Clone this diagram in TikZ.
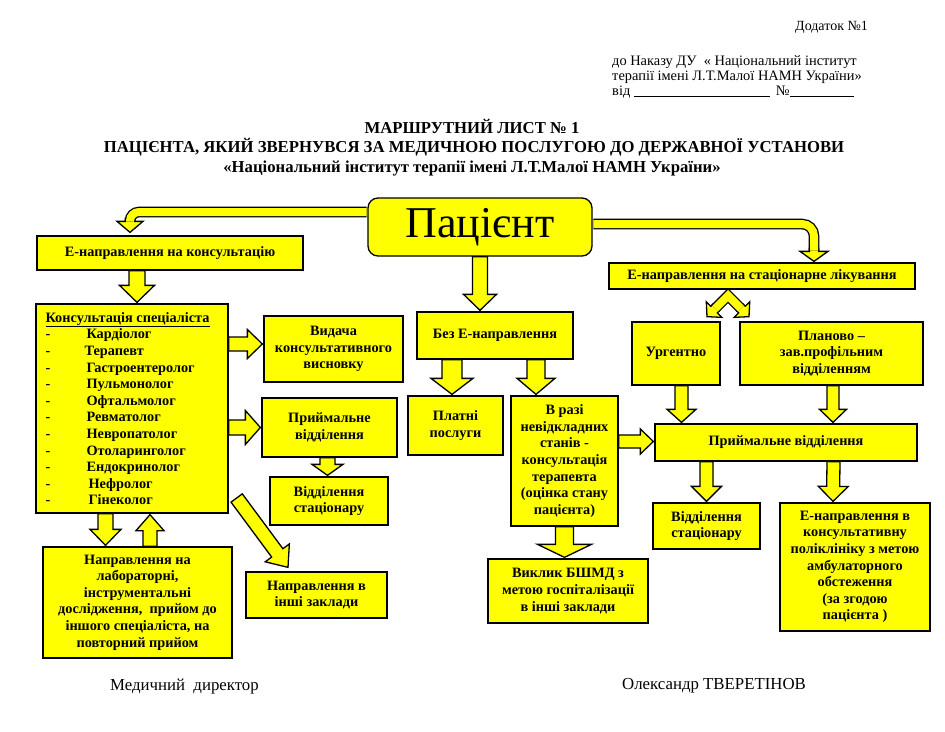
\documentclass[tikz,border=0pt]{standalone}
\usepackage{fontspec}
\setmainfont{Liberation Serif}
\usetikzlibrary{calc}
\definecolor{yel}{RGB}{255,255,0}
\newcommand\bx{\fontsize{14.3}{16.6}\selectfont\bfseries}
% block arrow: from, tip, shaft half width, head half width, head length
\newcommand\barrow[5]{%
  \filldraw[arr] let \p1=#1, \p2=#2, \n1={atan2(\y2-\y1,\x2-\x1)} in
    ($(\p1)+({\n1+90}:#3)$) --
    ($(\p2)+(\n1:-#5)+({\n1+90}:#3)$) --
    ($(\p2)+(\n1:-#5)+({\n1+90}:#4)$) --
    (\p2) --
    ($(\p2)+(\n1:-#5)+({\n1-90}:#4)$) --
    ($(\p2)+(\n1:-#5)+({\n1-90}:#3)$) --
    ($(\p1)+({\n1-90}:#3)$) -- cycle;}
\begin{document}
\begin{tikzpicture}[x=1pt,y=-1pt,
  box/.style={draw=black, fill=yel, line width=1.3pt, align=center, font=\bx, inner sep=1pt},
  arr/.style={draw=black, fill=yel, line width=1.3pt, line join=miter},
  dbl/.style={draw=black, line width=1.3pt, double=yel, double distance=8pt},
  hdr/.style={font=\fontsize{14.4}{15}\selectfont, inner sep=0pt},
  ttl/.style={font=\fontsize{16.7}{18}\selectfont\bfseries, inner sep=0pt, anchor=base},
  sig/.style={font=\fontsize{16.8}{18}\selectfont, inner sep=0pt, anchor=base west}]
\fill[white] (0,0) rectangle (945,731);
\useasboundingbox (0,0) rectangle (945,731);

% header
\node[hdr, anchor=base west, font=\fontsize{14}{15}\selectfont] (dod) at (795,30) {Додаток №1};
\node[hdr, anchor=base west] (h1) at (612,65) {до Наказу ДУ \ « Національний інститут};
\node[hdr, anchor=base west] (h2) at (612,80) {терапії імені Л.Т.Малої НАМН України»};
\node[hdr, anchor=base west] (h3) at (612,95) {від \rule[-1.5pt]{136pt}{0.5pt}\hspace{6pt}№\rule[-1.5pt]{64pt}{0.5pt}};

% title
\node[ttl] (t1) at (472,133) {МАРШРУТНИЙ ЛИСТ № 1};
\node[ttl] (t2) at (474,152.5) {ПАЦІЄНТА, ЯКИЙ ЗВЕРНУВСЯ ЗА МЕДИЧНОЮ ПОСЛУГОЮ ДО ДЕРЖАВНОЇ УСТАНОВИ};
\node[ttl] (t3) at (472,172) {«Національний інститут терапії імені Л.Т.Малої НАМН України»};

% boxes
\node[box, rounded corners=10pt, minimum width=224pt, minimum height=58pt, font=\fontsize{44}{44}\selectfont] (pat) at (480,227) {Пацієнт};
\node[box, minimum width=266pt, minimum height=34pt] (ekons) at (170,253) {Е-направлення на консультацію};
\node[box, minimum width=192pt, minimum height=209pt] (kons) at (132,408.5) {};
\node[anchor=north west, inner sep=0pt, font=\bx, align=left] (konsl) at ($(kons.north west)+(10,7)$) {%
\begin{tabular}{@{}p{41pt}@{}l@{}}
\multicolumn{2}{@{}l@{}}{\underline{Консультація спеціаліста}}\\
- & Кардіолог\\
- & \hspace*{-2pt}Терапевт\\
- & Гастроентеролог\\
- & Пульмонолог\\
- & Офтальмолог\\
- & Ревматолог\\
- & Невропатолог\\
- & Отоларинголог\\
- & Ендокринолог\\
- & \hspace*{2pt}Нефролог\\
- & \hspace*{2pt}Гінеколог
\end{tabular}};
\node[box, minimum width=139pt, minimum height=66pt] (vid) at (333.5,349) {Видача\\консультативного\\висновку};
\node[box, minimum width=135pt, minimum height=59pt] (pr1) at (329.5,427.5) {Приймальне\\відділення};
\node[box, minimum width=118pt, minimum height=48pt] (st1) at (329,501) {Відділення\\стаціонару};
\node[box, minimum width=141pt, minimum height=46pt] (inshi) at (316.5,595) {Направлення в\\інші заклади};
\node[box, minimum width=189pt, minimum height=111pt] (napr) at (137.5,602.5) {Направлення на\\лабораторні,\\інструментальні\\дослідження, \ прийом до\\іншого спеціаліста, на\\повторний прийом};
\node[box, minimum width=156pt, minimum height=47pt] (bez) at (495,335.5) {Без Е-направлення};
\node[box, minimum width=95pt, minimum height=59pt] (plat) at (455.5,425.5) {Платні\\послуги};
\node[box, minimum width=107pt, minimum height=130pt] (vrazi) at (564.5,461) {В разі\\невідкладних\\станів -\\консультація\\терапевта\\(оцінка стану\\пацієнта)};
\node[box, minimum width=160pt, minimum height=64pt] (vykl) at (568,591) {Виклик БШМД з\\метою госпіталізації\\в інші заклади};
\node[box, minimum width=306pt, minimum height=26pt] (estat) at (762,276) {Е-направлення на стаціонарне лікування};
\node[box, minimum width=88pt, minimum height=63pt] (urg) at (676,353.5) {Ургентно};
\node[box, minimum width=183pt, minimum height=63pt] (plan) at (831.5,353.5) {Планово –\\зав.профільним\\відділенням};
\node[box, minimum width=262pt, minimum height=37pt] (pr2) at (786,442.5) {Приймальне відділення};
\node[box, minimum width=107pt, minimum height=46pt] (st2) at (706.5,526) {Відділення\\стаціонару};
\node[box, minimum width=150pt, minimum height=128pt] (konsp) at (855,567) {Е-направлення в\\консультативну\\поліклініку з метою\\амбулаторного\\обстеження\\(за згодою\\пацієнта )};

% straight block arrows
\barrow{($(ekons.south)+(-33,0)$)}{($(kons.north)+(5,-1)$)}{8pt}{17.5pt}{17pt}
\barrow{($(kons.east)+(0,-64.5)$)}{($(vid.west)+(-1,-5)$)}{7pt}{14.5pt}{15pt}
\barrow{($(kons.east)+(0,19)$)}{($(pr1.west)+(-1,0)$)}{7.5pt}{17pt}{15pt}
\barrow{($(pr1.south)+(-2,0)$)}{($(st1.north)+(-1.5,-1)$)}{7.5pt}{15.5pt}{11pt}
\barrow{($(kons.east)+(8,89.5)$)}{($(inshi.north)+(-28.5,-4)$)}{7pt}{15pt}{18pt}
\barrow{($(kons.south)+(-26.5,0)$)}{($(napr.north)+(-32,-1)$)}{7.5pt}{15.5pt}{16pt}
\barrow{($(napr.north)+(12.5,0)$)}{($(kons.south)+(18,1)$)}{7pt}{14pt}{16pt}
\barrow{(pat.south)}{($(bez.north)+(-15,-1)$)}{7.5pt}{16.5pt}{16pt}
\barrow{($(bez.south)+(-43,0)$)}{($(plat.north)+(-3.5,-1)$)}{10pt}{21pt}{16pt}
\barrow{($(bez.south)+(41,0)$)}{($(vrazi.north)+(-28.5,-1)$)}{9pt}{19pt}{16pt}
\barrow{(vrazi.south)}{($(vykl.north)+(-3.5,-1)$)}{9pt}{27pt}{13pt}
\barrow{($(vrazi.east)+(0,-19.5)$)}{($(pr2.west)+(-1,-1)$)}{6.5pt}{12.5pt}{13pt}
\barrow{($(urg.south)+(5.5,0)$)}{($(pr2.north)+(-104.5,-1)$)}{6.5pt}{14.5pt}{13pt}
\barrow{($(plan.south)+(1.5,0)$)}{($(pr2.north)+(47,-1)$)}{6pt}{13.5pt}{13pt}
\barrow{($(pr2.south)+(-79.5,0)$)}{($(st2.north)+(0,-1)$)}{6.5pt}{15pt}{15pt}
\barrow{($(pr2.south)+(47.5,0)$)}{($(konsp.north)+(-22,-1)$)}{6.5pt}{15pt}{15pt}

% bent arrows from patient
\coordinate (b1s) at ($(pat.west)+(-0.7,-15)$);
\coordinate (b1t) at ($(ekons.north)+(-40,-3)$);
\coordinate (b1h) at ($(b1t)+(0,-14)$);
\barrow{(b1h)}{(b1t)}{4.65pt}{13pt}{11pt}
\draw[dbl, rounded corners=9pt] (b1s) -| ($(b1t)+(0,-12)$);

\coordinate (b2s) at ($(pat.east)+(0.7,-3)$);
\coordinate (b2t) at ($(estat.north)+(52,-1)$);
\coordinate (b2h) at ($(b2t)+(0,-13)$);
\barrow{(b2h)}{(b2t)}{4.65pt}{14pt}{10pt}
\draw[dbl, rounded corners=12pt] (b2s) -| ($(b2t)+(0,-11)$);

% chevron double arrow
\coordinate (apx) at ($(estat.south)+(-34,6)$);
\coordinate (cL) at ($(apx)+(-21,21)$);
\coordinate (cR) at ($(apx)+(21,21)$);
\barrow{($(apx)!0.56!(cL)$)}{(cL)}{4.65pt}{11pt}{10pt}
\barrow{($(apx)!0.56!(cR)$)}{(cR)}{4.65pt}{11pt}{10pt}
\draw[dbl] ($(apx)!0.61!(cL)$) -- (apx) -- ($(apx)!0.61!(cR)$);

% signatures
\node[sig] (sg1) at (110,690) {Медичний \ директор};
\node[sig] (sg2) at (622,689) {Олександр ТВЕРЕТІНОВ};
\end{tikzpicture}
\end{document}
